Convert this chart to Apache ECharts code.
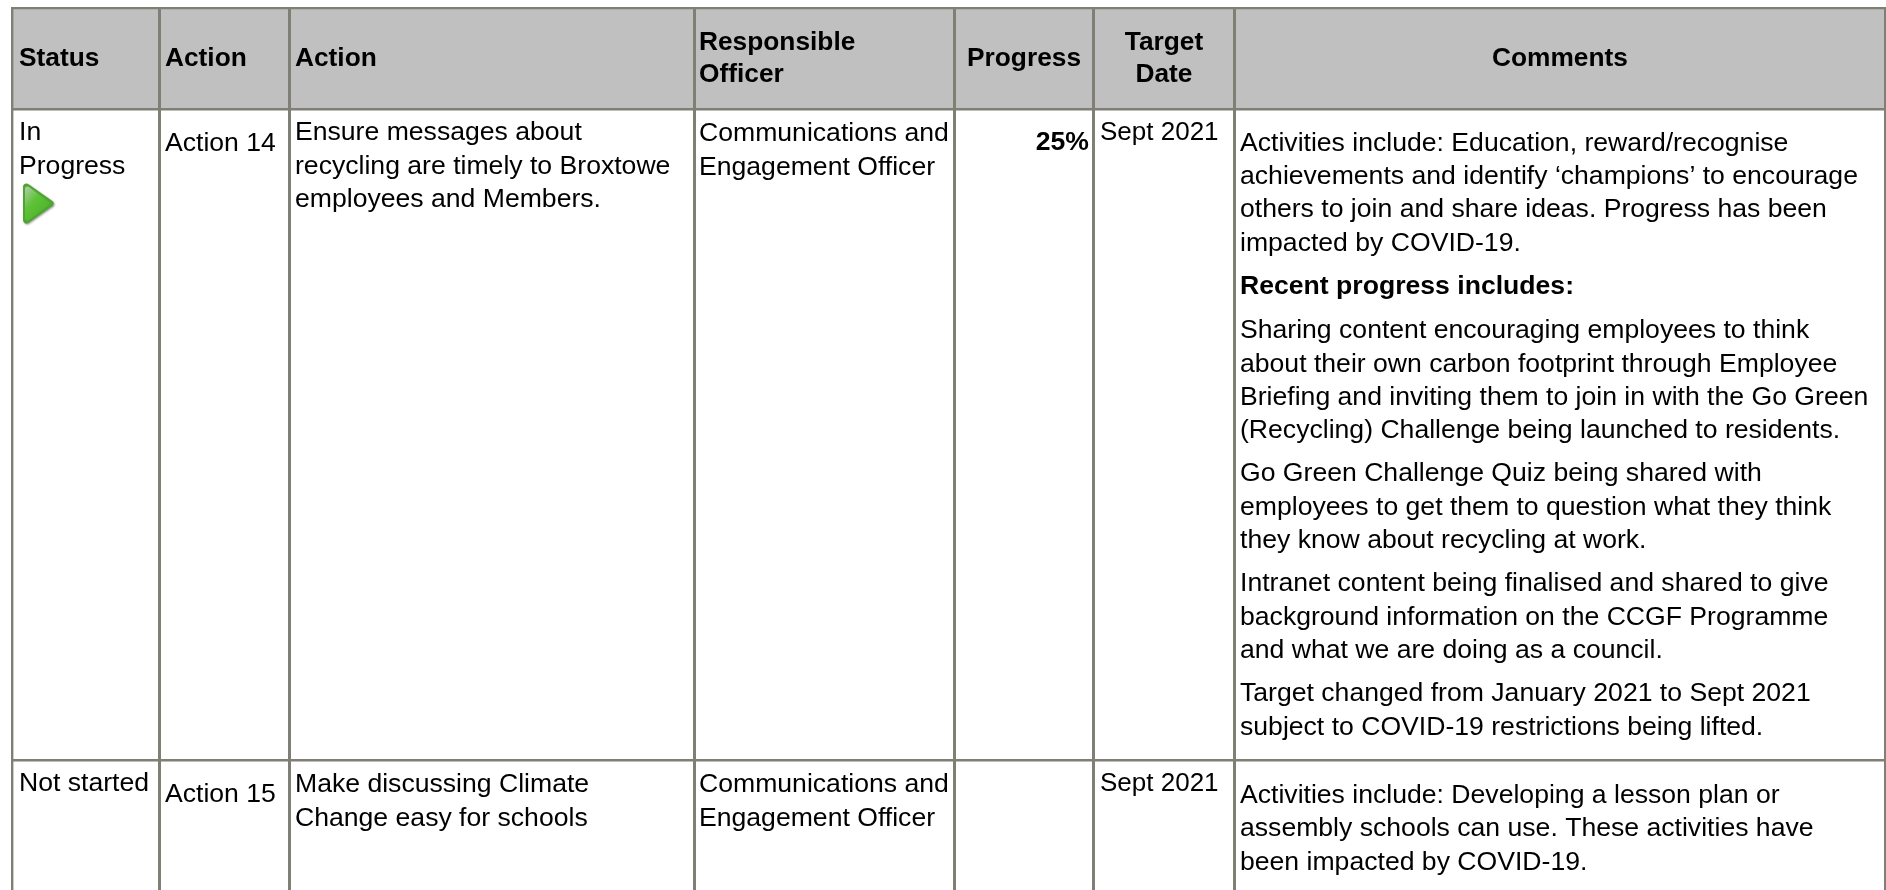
<!DOCTYPE html>
<html><head><meta charset="utf-8">
<style>html,body{margin:0;padding:0;background:#fff}#c{width:1886px;height:890px}</style>
<script src="https://cdn.jsdelivr.net/npm/echarts@6/dist/echarts.min.js"></script>
</head><body><div id="c"></div>
<script>
// ---- table content
const headers = ['Status', 'Action', 'Action', 'Responsible\nOfficer', 'Progress', 'Target\nDate', 'Comments'];
const statuses = ['In\nProgress', 'Not started'];
const actionIds = ['Action 14', 'Action 15'];
const actionTexts = ['Ensure messages about\nrecycling are timely to Broxtowe\nemployees and Members.', 'Make discussing Climate\nChange easy for schools'];
const officers = ['Communications and\nEngagement Officer', 'Communications and\nEngagement Officer'];
const progress = ['25%', ''];
const targetDates = ['Sept 2021', 'Sept 2021'];
const comments14 = [
  ['Activities include: Education, reward/recognise', 'achievements and identify ‘champions’ to encourage', 'others to join and share ideas. Progress has been', 'impacted by COVID-19.'],
  ['Recent progress includes:'],
  ['Sharing content encouraging employees to think', 'about their own carbon footprint through Employee', 'Briefing and inviting them to join in with the Go Green', '(Recycling) Challenge being launched to residents.'],
  ['Go Green Challenge Quiz being shared with', 'employees to get them to question what they think', 'they know about recycling at work.'],
  ['Intranet content being finalised and shared to give', 'background information on the CCGF Programme', 'and what we are doing as a council.'],
  ['Target changed from January 2021 to Sept 2021', 'subject to COVID-19 restrictions being lifted.']
];
const comments15 = [
  ['Activities include: Developing a lesson plan or', 'assembly schools can use. These activities have', 'been impacted by COVID-19.']
];

// ---- layout (separate from content)
const W = 1886, H = 890;
const colLeft = [11, 158, 288, 693, 953, 1092, 1233, 1884];
const colWidth = [2.4, 3, 3, 3, 3, 3, 3, 2];
const rowTop = [7, 108, 759];
const rowHeight = [2.2, 2.6, 2.6];
const LH = 33.3, FS = 26.6;
const LINE = '#7f7f75', HEAD = '#c0c0c0';
const FONT = '"Liberation Sans", Arial, sans-serif';
const textItems = [];
function put(x, yFirst, str, weight, align, size, lh) {
  str.split('\n').forEach((s, i) => textItems.push([x, yFirst + i * (lh || LH), s, weight || 'normal', align || 'left', size || FS]));
}
// header
const hY = [59, 59, 59, 42.6, 59, 42.6, 59];
const hX = [19, 165, 295, 699, 1024, 1164, 1560];
const hA = ['left', 'left', 'left', 'left', 'center', 'center', 'center'];
headers.forEach((h, i) => put(hX[i], hY[i], h, 'bold', hA[i], 26.3, 32.6));
// row 14
put(19, 133, statuses[0]); put(165, 144, actionIds[0]); put(295, 133, actionTexts[0]);
put(699, 134, officers[0]); put(1089, 143, progress[0], 'bold', 'right'); put(1100, 133, targetDates[0], 'normal', 'left', 26);
const paraY = [143.4, 287, 331, 474, 584, 694];
comments14.forEach((p, i) => p.forEach((s, j) => textItems.push([1240, paraY[i] + j * LH, s, i === 1 ? 'bold' : 'normal', 'left', FS])));
// row 15
put(19, 784, statuses[1]); put(165, 795, actionIds[1]); put(295, 785, actionTexts[1]);
put(699, 785, officers[1]); put(1100, 784, targetDates[1], 'normal', 'left', 26);
comments15.forEach(p => p.forEach((s, j) => textItems.push([1240, 795.6 + j * LH, s, 'normal', 'left', FS])));

const chart = echarts.init(document.getElementById('c'));
chart.setOption({
  animation: false,
  backgroundColor: '#fff',
  grid: { left: 0, right: 0, top: 0, bottom: 0 },
  xAxis: { type: 'value', min: 0, max: W, show: false },
  yAxis: { type: 'value', min: 0, max: H, inverse: true, show: false },
  series: [
    { type: 'custom', silent: true, clip: false, coordinateSystem: 'cartesian2d', data: [[0, 0]], encode: { x: 0, y: 1 },
      renderItem(p, api) {
        const c = (x, y) => api.coord([x, y]);
        const kids = [];
        const a = c(colLeft[0], rowTop[0]), b = c(colLeft[7], rowTop[1]);
        kids.push({ type: 'rect', shape: { x: a[0], y: a[1], width: b[0] - a[0], height: b[1] - a[1] }, style: { fill: HEAD } });
        colLeft.forEach((x, i) => { const t = c(x, rowTop[0]), e = c(x + colWidth[i], H);
          kids.push({ type: 'rect', shape: { x: t[0], y: t[1], width: e[0] - t[0], height: e[1] - t[1] }, style: { fill: LINE } }); });
        rowTop.forEach((y, i) => { const t = c(colLeft[0], y), e = c(W, y + rowHeight[i]);
          kids.push({ type: 'rect', shape: { x: t[0], y: t[1], width: e[0] - t[0], height: e[1] - t[1] }, style: { fill: LINE } }); });
        // status arrow
        const outer = [[26.5, 187], [50, 203.5], [26.5, 220]].map(q => c(q[0], q[1]));
        const inner = [[27.5, 189], [47, 203.5], [27.5, 218]].map(q => c(q[0], q[1]));
        const grad = () => new echarts.graphic.LinearGradient(0, 0, 1, 0.6, [{ offset: 0, color: '#b4cdae' }, { offset: 0.5, color: '#5fc238' }, { offset: 1, color: '#4fb52c' }]);
        kids.push({ type: 'polygon', shape: { points: outer }, style: { lineJoin: 'round', lineWidth: 7, stroke: '#4ea52f', fill: '#4ea52f',
          shadowColor: 'rgba(0,0,0,0.4)', shadowBlur: 2, shadowOffsetX: 1, shadowOffsetY: 1 } });
        kids.push({ type: 'polygon', shape: { points: inner }, style: { lineJoin: 'round', lineWidth: 5, stroke: grad(), fill: grad() } });
        return { type: 'group', children: kids };
      } },
    { type: 'custom', silent: true, clip: false, coordinateSystem: 'cartesian2d', data: textItems, encode: { x: 0, y: 1 },
      renderItem(p, api) {
        const it = textItems[p.dataIndex], q = api.coord([it[0], it[1]]);
        return { type: 'text', x: q[0], y: q[1], style: { text: it[2], fill: '#000', font: `${it[3]} ${it[5]}px ${FONT}`, textAlign: it[4], textVerticalAlign: 'middle' } };
      } }
  ]
});
</script></body></html>
